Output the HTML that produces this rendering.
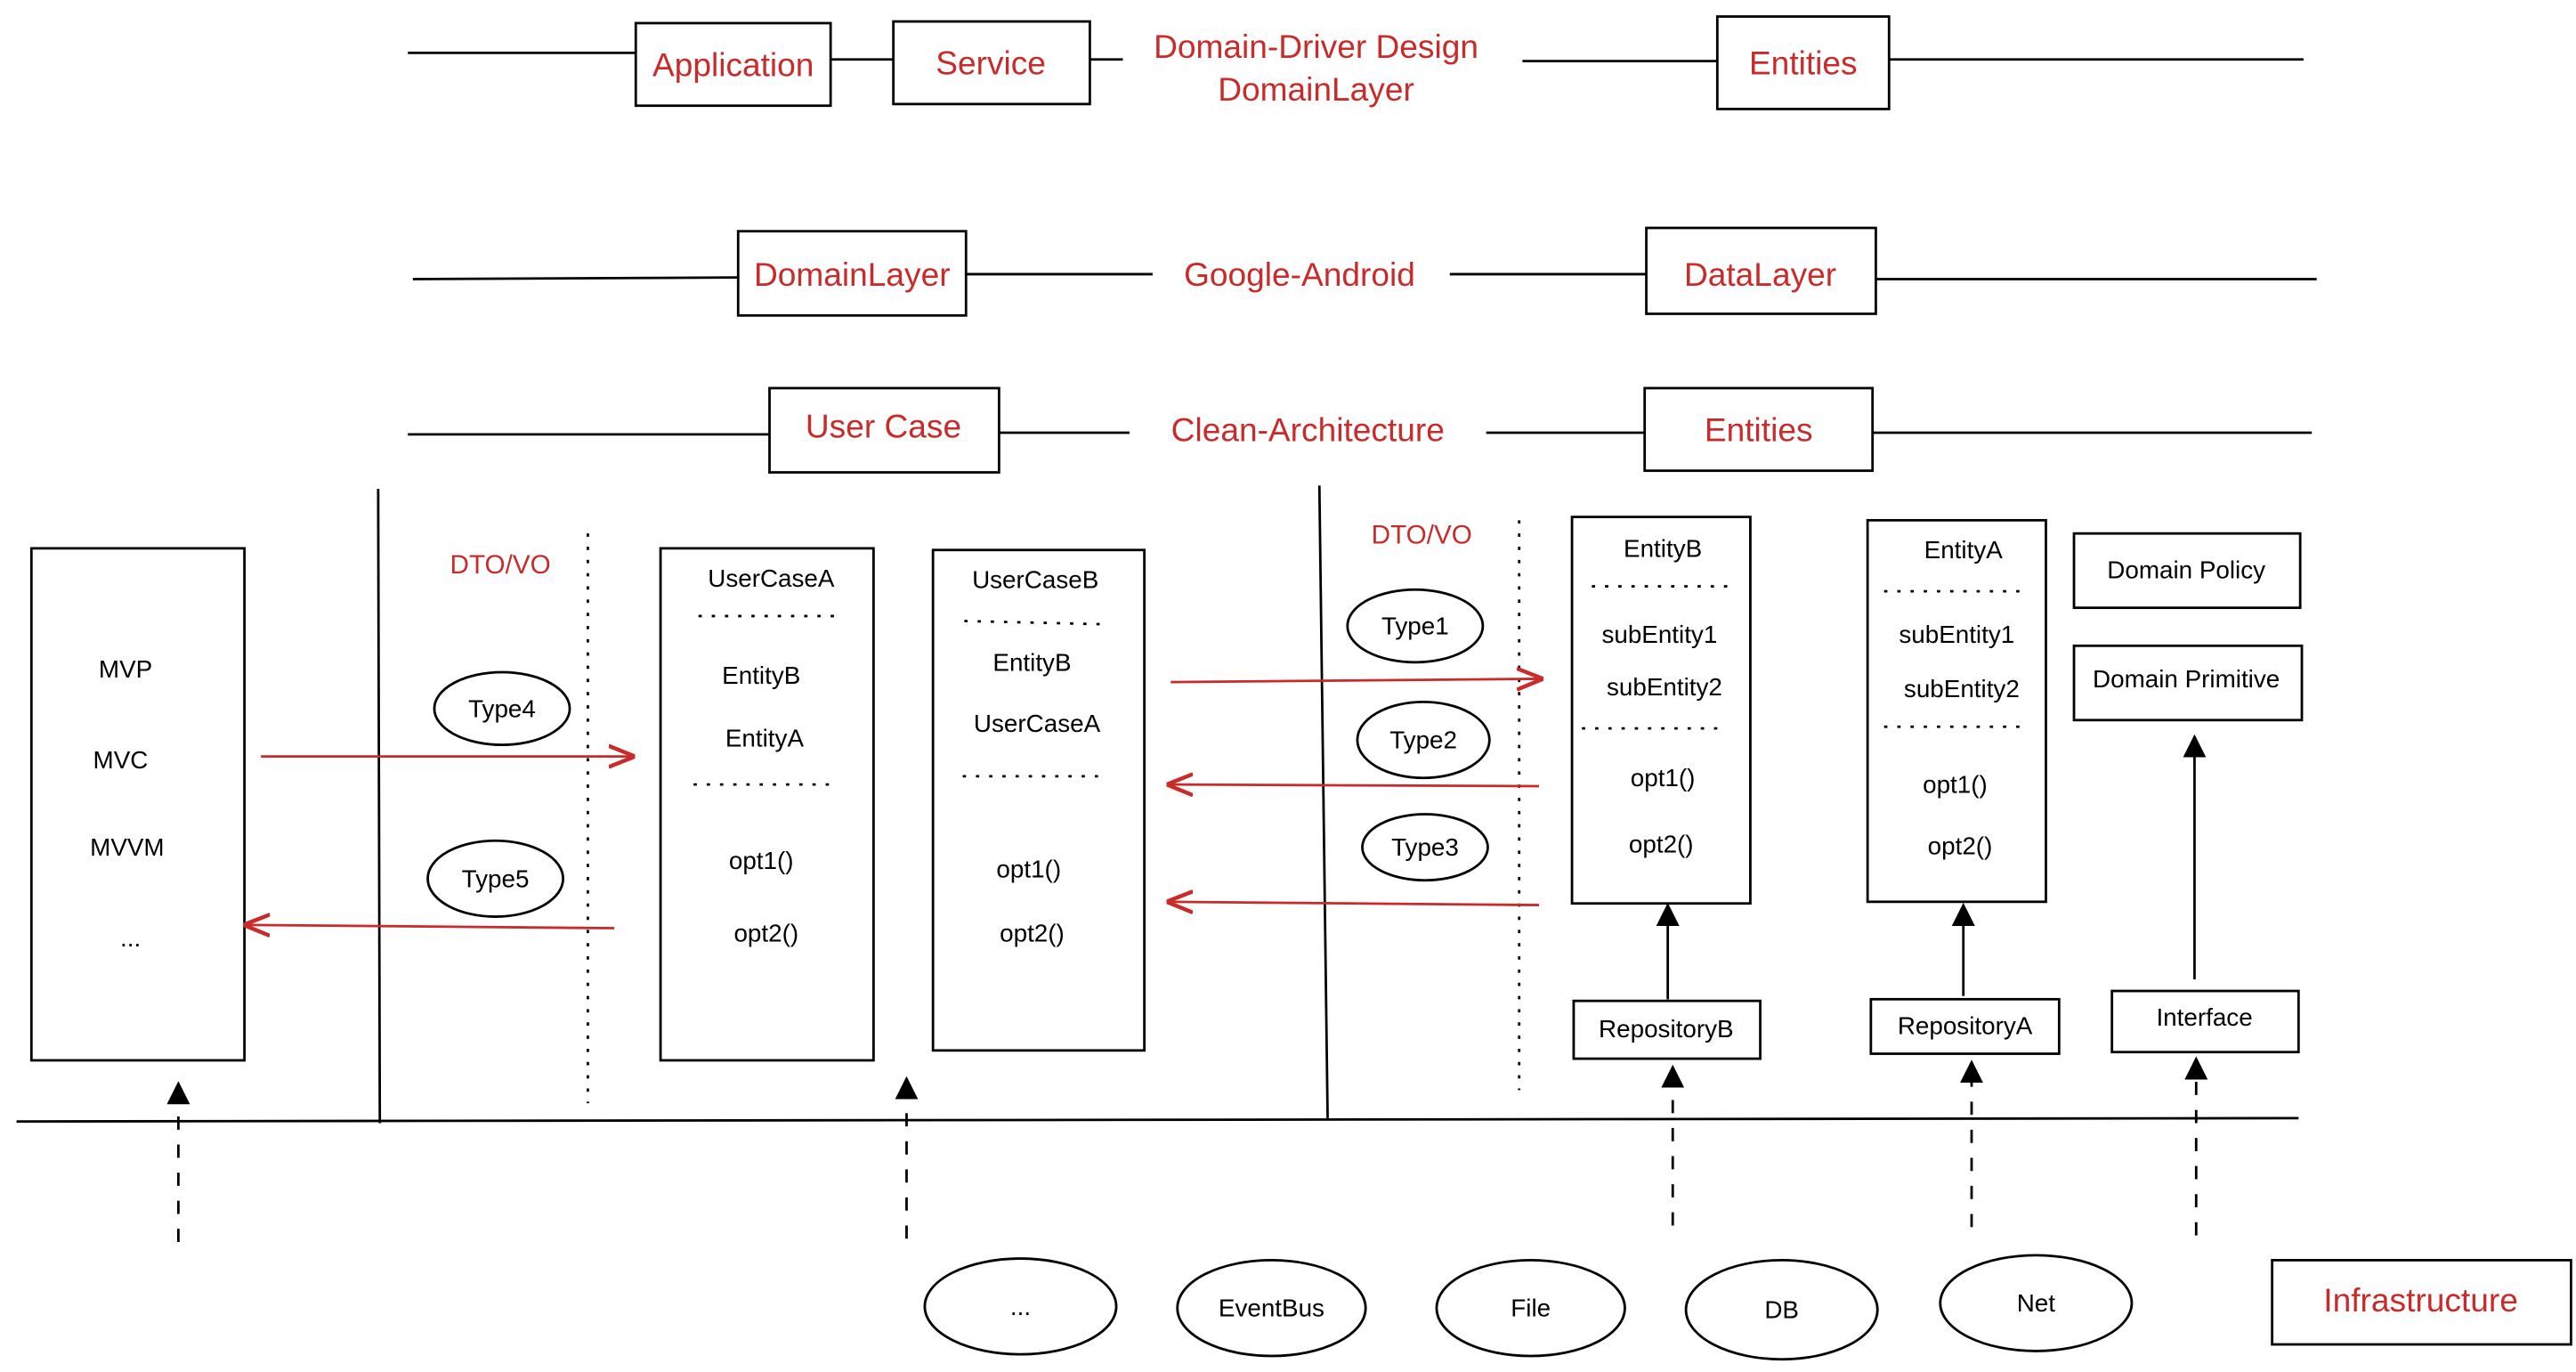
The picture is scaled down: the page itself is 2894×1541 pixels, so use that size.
<!DOCTYPE html>
<html><head><meta charset="utf-8"><style>html,body{margin:0;padding:0;background:#fff}svg{display:block}</style></head>
<body>
<svg width="2894" height="1541" viewBox="0 0 1560 830.7" xmlns="http://www.w3.org/2000/svg" font-family="Liberation Sans, sans-serif">
<defs>
<marker id="ar" viewBox="0 0 10 10" refX="9" refY="5" markerWidth="14" markerHeight="14" markerUnits="userSpaceOnUse" orient="auto"><path d="M0,0 L10,5 L0,10 z" fill="#000"/></marker>
<marker id="rr" viewBox="0 0 10 10" refX="9" refY="5" markerWidth="16" markerHeight="16" markerUnits="userSpaceOnUse" orient="auto"><path d="M0,1 L10,5 L0,9" fill="none" stroke="#c92a2a" stroke-width="1.5"/></marker>
</defs>
<g stroke="#000" stroke-width="1.5" fill="none">
<!-- row1 -->
<line x1="247" y1="32" x2="385" y2="32"/><rect x="385" y="14" width="118" height="50"/>
<line x1="503" y1="36" x2="541" y2="36"/><rect x="541" y="13" width="119" height="50"/>
<line x1="660" y1="36" x2="680" y2="36"/><line x1="922" y1="37" x2="1040" y2="37"/>
<rect x="1040" y="10" width="104" height="56"/><line x1="1144" y1="36" x2="1395" y2="36"/>
<!-- row2 -->
<line x1="250" y1="169" x2="447" y2="168"/><rect x="447" y="140" width="138" height="51"/>
<line x1="585" y1="166" x2="698" y2="166"/><line x1="878" y1="166" x2="997" y2="166"/>
<rect x="997" y="138" width="139" height="52"/><line x1="1136" y1="169" x2="1403" y2="169"/>
<!-- row3 -->
<line x1="247" y1="263" x2="466" y2="263"/><rect x="466" y="235" width="139" height="51"/>
<line x1="605" y1="262" x2="684" y2="262"/><line x1="900" y1="262" x2="996" y2="262"/>
<rect x="996" y="235" width="138" height="50"/><line x1="1134" y1="262" x2="1400" y2="262"/>
<!-- frame -->
<line x1="229" y1="296" x2="230" y2="680"/><line x1="799" y1="294" x2="804" y2="677"/>
<line x1="10" y1="679" x2="1392" y2="677"/>
<rect x="19" y="332" width="129" height="310"/>
<line x1="356" y1="323" x2="356" y2="668" stroke-dasharray="2,6"/>
<line x1="920" y1="315" x2="920" y2="660" stroke-dasharray="2,6"/>
<ellipse cx="304" cy="429" rx="41" ry="22"/><ellipse cx="300" cy="532" rx="41" ry="23"/>
<rect x="400" y="332" width="129" height="310"/>
<line x1="423" y1="373" x2="510" y2="373" stroke-dasharray="2,6"/><line x1="420" y1="475" x2="505" y2="475" stroke-dasharray="2,6"/>
<rect x="565" y="333" width="128" height="303"/>
<line x1="584" y1="376" x2="670" y2="378" stroke-dasharray="2,6"/><line x1="583" y1="470" x2="668" y2="470" stroke-dasharray="2,6"/>
<ellipse cx="857" cy="379" rx="41" ry="22"/><ellipse cx="862" cy="448" rx="40" ry="23"/><ellipse cx="863" cy="513" rx="38" ry="20"/>
<rect x="952" y="313" width="108" height="234"/>
<line x1="964" y1="355" x2="1050" y2="355" stroke-dasharray="2,6"/><line x1="958" y1="441" x2="1046" y2="441" stroke-dasharray="2,6"/>
<rect x="1131" y="315" width="108" height="231"/>
<line x1="1141" y1="358" x2="1228" y2="358" stroke-dasharray="2,6"/><line x1="1141" y1="440" x2="1228" y2="440" stroke-dasharray="2,6"/>
<rect x="1256" y="323" width="137" height="45"/><rect x="1256" y="391" width="138" height="45"/>
<line x1="1010" y1="605" x2="1010" y2="548" marker-end="url(#ar)"/>
<rect x="953" y="606" width="113" height="35"/>
<line x1="1189" y1="603" x2="1189" y2="548" marker-end="url(#ar)"/>
<rect x="1133" y="605" width="114" height="33"/><rect x="1279" y="600" width="113" height="37"/>
<line x1="1329" y1="593" x2="1329" y2="446" marker-end="url(#ar)"/>
<g stroke-dasharray="8,9">
<line x1="108" y1="752" x2="108" y2="656" marker-end="url(#ar)"/>
<line x1="549" y1="750" x2="549" y2="653" marker-end="url(#ar)"/>
<line x1="1013" y1="742" x2="1013" y2="646" marker-end="url(#ar)"/>
<line x1="1194" y1="743" x2="1194" y2="643" marker-end="url(#ar)"/>
<line x1="1330" y1="748" x2="1330" y2="641" marker-end="url(#ar)"/>
</g>
<ellipse cx="618" cy="791" rx="58" ry="29"/><ellipse cx="770" cy="792" rx="57" ry="29"/>
<ellipse cx="927" cy="792" rx="57" ry="29"/><ellipse cx="1079" cy="793" rx="58" ry="30"/>
<ellipse cx="1233" cy="789" rx="58" ry="29"/>
<rect x="1376" y="763" width="181" height="51"/>
</g>
<g stroke="#c92a2a" stroke-width="1.5" fill="none">
<line x1="158" y1="458" x2="383" y2="458" marker-end="url(#rr)"/>
<line x1="372" y1="562" x2="149" y2="560" marker-end="url(#rr)"/>
<line x1="709" y1="413" x2="933" y2="411" marker-end="url(#rr)"/>
<line x1="932" y1="476" x2="708" y2="475" marker-end="url(#rr)"/>
<line x1="932" y1="548" x2="708" y2="546" marker-end="url(#rr)"/>
</g>
<g fill="#c92a2a" font-size="20" text-anchor="middle" dominant-baseline="central">
<text x="444" y="39">Application</text><text x="600" y="38">Service</text>
<text x="797" y="28">Domain-Driver Design</text><text x="797" y="54">DomainLayer</text>
<text x="1092" y="38">Entities</text>
<text x="516" y="166">DomainLayer</text><text x="787" y="166">Google-Android</text><text x="1066" y="166">DataLayer</text>
<text x="535" y="258">User Case</text><text x="792" y="260">Clean-Architecture</text><text x="1065" y="260">Entities</text>
<text x="1466" y="787">Infrastructure</text>
<text x="303" y="342" font-size="16">DTO/VO</text><text x="861" y="324" font-size="16">DTO/VO</text>
</g>
<g fill="#000" font-size="15" text-anchor="middle" dominant-baseline="central">
<text x="76" y="405">MVP</text><text x="73" y="460">MVC</text><text x="77" y="513">MVVM</text><text x="79" y="568">...</text>
<text x="304" y="429">Type4</text><text x="300" y="532">Type5</text>
<text x="467" y="350">UserCaseA</text><text x="461" y="409">EntityB</text><text x="463" y="447">EntityA</text>
<text x="461" y="521">opt1()</text><text x="464" y="565">opt2()</text>
<text x="627" y="351">UserCaseB</text><text x="625" y="401">EntityB</text><text x="628" y="438">UserCaseA</text>
<text x="623" y="526">opt1()</text><text x="625" y="565">opt2()</text>
<text x="857" y="379">Type1</text><text x="862" y="448">Type2</text><text x="863" y="513">Type3</text>
<text x="1007" y="332">EntityB</text><text x="1005" y="384">subEntity1</text><text x="1008" y="416">subEntity2</text>
<text x="1007" y="471">opt1()</text><text x="1006" y="511">opt2()</text>
<text x="1189" y="333">EntityA</text><text x="1185" y="384">subEntity1</text><text x="1188" y="417">subEntity2</text>
<text x="1184" y="475">opt1()</text><text x="1187" y="512">opt2()</text>
<text x="1324" y="345">Domain Policy</text><text x="1324" y="411">Domain Primitive</text>
<text x="1009" y="623">RepositoryB</text><text x="1190" y="621">RepositoryA</text><text x="1335" y="616">Interface</text>
<text x="618" y="791">...</text><text x="770" y="792">EventBus</text><text x="927" y="792">File</text>
<text x="1079" y="793">DB</text><text x="1233" y="789">Net</text>
</g>
</svg>
</body></html>
